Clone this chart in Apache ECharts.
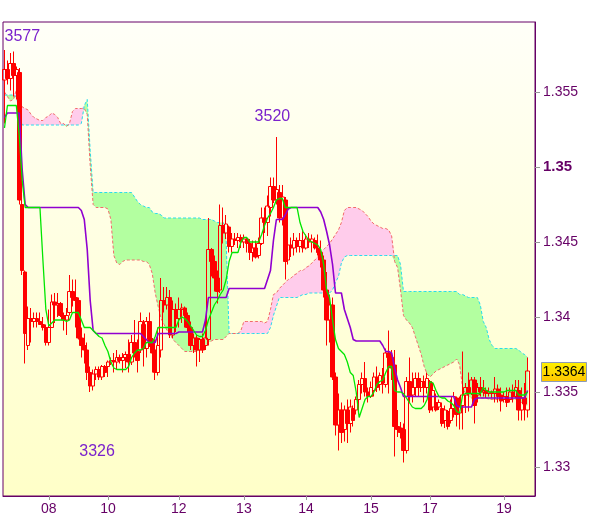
<!DOCTYPE html>
<html><head><meta charset="utf-8">
<script src="https://cdn.jsdelivr.net/npm/echarts/dist/echarts.min.js"></script>
<style>html,body{margin:0;padding:0;background:#fff}#c{width:600px;height:519px}</style>
</head><body><div id="c"></div>
<script>
// ---- data (hourly bars) ----
const opens = [1.3558,1.3565,1.3559,1.3569,1.3561,1.3563,1.3475,1.3430,1.3381,1.3399,
1.3397,1.3399,1.3397,1.3395,1.3393,1.3383,1.3393,1.3410,1.3408,1.3409,
1.3401,1.3398,1.3403,1.3417,1.3413,1.3411,1.3386,1.3381,1.3378,1.3363,
1.3354,1.3362,1.3365,1.3360,1.3367,1.3367,1.3370,1.3371,1.3370,1.3373,
1.3371,1.3373,1.3375,1.3370,1.3383,1.3377,1.3378,1.3395,1.3379,1.3397,
1.3385,1.3378,1.3363,1.3378,1.3411,1.3408,1.3413,1.3388,1.3405,1.3399,
1.3405,1.3406,1.3401,1.3393,1.3381,1.3386,1.3378,1.3385,1.3381,1.3385,
1.3445,1.3437,1.3426,1.3418,1.3461,1.3456,1.3460,1.3447,1.3452,1.3451,
1.3453,1.3450,1.3452,1.3449,1.3443,1.3446,1.3441,1.3449,1.3466,1.3463,
1.3473,1.3487,1.3478,1.3483,1.3466,1.3478,1.3438,1.3448,1.3446,1.3451,
1.3447,1.3451,1.3446,1.3452,1.3450,1.3451,1.3446,1.3443,1.3438,1.3418,
1.3398,1.3408,1.3360,1.3328,1.3338,1.3325,1.3338,1.3329,1.3339,1.3338,
1.3345,1.3355,1.3359,1.3350,1.3347,1.3351,1.3360,1.3355,1.3360,1.3355,
1.3376,1.3373,1.3368,1.3327,1.3326,1.3325,1.3311,1.3357,1.3348,1.3353,
1.3359,1.3353,1.3357,1.3353,1.3357,1.3340,1.3343,1.3340,1.3339,1.3331,
1.3337,1.3331,1.3339,1.3346,1.3336,1.3341,1.3348,1.3353,1.3349,1.3358,
1.3348,1.3353,1.3350,1.3351,1.3349,1.3350,1.3349,1.3352,1.3348,1.3345,
1.3347,1.3345,1.3350,1.3347,1.3351,1.3338,1.3346,1.3338];
const closes = [1.3565,1.3559,1.3569,1.3561,1.3565,1.3478,1.3431,1.3389,1.3399,1.3397,
1.3399,1.3397,1.3395,1.3393,1.3383,1.3393,1.3410,1.3408,1.3409,1.3401,
1.3398,1.3401,1.3417,1.3413,1.3411,1.3386,1.3381,1.3378,1.3363,1.3354,
1.3362,1.3365,1.3360,1.3367,1.3363,1.3370,1.3371,1.3370,1.3373,1.3371,
1.3373,1.3375,1.3370,1.3383,1.3376,1.3371,1.3397,1.3379,1.3397,1.3385,
1.3376,1.3363,1.3381,1.3411,1.3408,1.3413,1.3388,1.3405,1.3399,1.3405,
1.3406,1.3401,1.3393,1.3381,1.3386,1.3378,1.3385,1.3378,1.3386,1.3445,
1.3437,1.3426,1.3417,1.3461,1.3456,1.3462,1.3447,1.3452,1.3451,1.3453,
1.3450,1.3452,1.3449,1.3443,1.3446,1.3440,1.3449,1.3466,1.3463,1.3474,
1.3487,1.3478,1.3485,1.3466,1.3480,1.3437,1.3448,1.3446,1.3451,1.3447,
1.3451,1.3446,1.3452,1.3450,1.3452,1.3446,1.3443,1.3438,1.3418,1.3398,
1.3408,1.3360,1.3328,1.3338,1.3323,1.3338,1.3329,1.3340,1.3331,1.3345,
1.3355,1.3359,1.3350,1.3347,1.3353,1.3360,1.3353,1.3361,1.3356,1.3376,
1.3373,1.3366,1.3327,1.3325,1.3323,1.3311,1.3357,1.3347,1.3353,1.3359,
1.3353,1.3357,1.3353,1.3359,1.3338,1.3351,1.3338,1.3343,1.3329,1.3338,
1.3327,1.3339,1.3347,1.3335,1.3341,1.3348,1.3353,1.3349,1.3358,1.3341,
1.3353,1.3350,1.3351,1.3349,1.3350,1.3349,1.3352,1.3347,1.3344,1.3347,
1.3343,1.3350,1.3347,1.3353,1.3338,1.3346,1.3342,1.3364];
const lows = [1.3529,1.3555,1.3551,1.3547,1.3545,1.3475,1.3428,1.3369,1.3378,1.3383,
1.3393,1.3393,1.3395,1.3391,1.3381,1.3381,1.3393,1.3396,1.3400,1.3400,
1.3391,1.3388,1.3401,1.3407,1.3393,1.3385,1.3373,1.3369,1.3358,1.3350,
1.3351,1.3358,1.3358,1.3358,1.3360,1.3360,1.3368,1.3363,1.3365,1.3369,
1.3363,1.3366,1.3363,1.3368,1.3373,1.3363,1.3376,1.3367,1.3373,1.3380,
1.3363,1.3358,1.3361,1.3373,1.3403,1.3405,1.3386,1.3386,1.3390,1.3393,
1.3396,1.3393,1.3390,1.3378,1.3376,1.3367,1.3370,1.3376,1.3378,1.3381,
1.3427,1.3417,1.3409,1.3416,1.3449,1.3452,1.3443,1.3443,1.3448,1.3446,
1.3446,1.3446,1.3443,1.3438,1.3437,1.3439,1.3439,1.3448,1.3456,1.3454,
1.3467,1.3476,1.3475,1.3463,1.3461,1.3425,1.3435,1.3440,1.3441,1.3443,
1.3443,1.3443,1.3445,1.3446,1.3443,1.3445,1.3441,1.3433,1.3413,1.3381,
1.3383,1.3358,1.3321,1.3311,1.3316,1.3317,1.3316,1.3323,1.3327,1.3335,
1.3338,1.3349,1.3347,1.3343,1.3346,1.3347,1.3350,1.3351,1.3349,1.3353,
1.3349,1.3358,1.3307,1.3320,1.3319,1.3303,1.3309,1.3343,1.3343,1.3347,
1.3347,1.3350,1.3343,1.3349,1.3336,1.3337,1.3337,1.3338,1.3327,1.3326,
1.3325,1.3329,1.3333,1.3327,1.3325,1.3325,1.3336,1.3337,1.3348,1.3329,
1.3343,1.3347,1.3347,1.3346,1.3347,1.3346,1.3343,1.3343,1.3337,1.3343,
1.3340,1.3343,1.3343,1.3346,1.3331,1.3331,1.3331,1.3333];
const highs = [1.3578,1.3571,1.3576,1.3577,1.3567,1.3566,1.3478,1.3431,1.3407,1.3406,
1.3403,1.3403,1.3403,1.3400,1.3395,1.3405,1.3415,1.3416,1.3416,1.3410,
1.3403,1.3406,1.3428,1.3425,1.3425,1.3413,1.3393,1.3389,1.3383,1.3367,
1.3365,1.3367,1.3367,1.3368,1.3368,1.3371,1.3373,1.3376,1.3378,1.3375,
1.3376,1.3377,1.3385,1.3388,1.3398,1.3385,1.3403,1.3398,1.3400,1.3403,
1.3386,1.3383,1.3393,1.3426,1.3420,1.3420,1.3418,1.3411,1.3409,1.3413,
1.3409,1.3407,1.3403,1.3397,1.3389,1.3388,1.3386,1.3389,1.3399,1.3466,
1.3446,1.3441,1.3431,1.3475,1.3473,1.3468,1.3461,1.3456,1.3456,1.3456,
1.3455,1.3455,1.3453,1.3452,1.3451,1.3451,1.3453,1.3473,1.3473,1.3481,
1.3493,1.3493,1.3520,1.3488,1.3488,1.3480,1.3453,1.3453,1.3456,1.3453,
1.3456,1.3458,1.3455,1.3456,1.3455,1.3453,1.3455,1.3451,1.3441,1.3430,
1.3415,1.3413,1.3363,1.3349,1.3343,1.3341,1.3345,1.3345,1.3341,1.3347,
1.3358,1.3363,1.3370,1.3353,1.3357,1.3363,1.3367,1.3363,1.3366,1.3379,
1.3391,1.3378,1.3378,1.3338,1.3330,1.3329,1.3360,1.3373,1.3363,1.3363,
1.3363,1.3359,1.3361,1.3363,1.3358,1.3356,1.3349,1.3345,1.3343,1.3341,
1.3338,1.3345,1.3350,1.3347,1.3347,1.3377,1.3356,1.3363,1.3360,1.3360,
1.3356,1.3360,1.3358,1.3353,1.3353,1.3351,1.3360,1.3355,1.3353,1.3350,
1.3353,1.3353,1.3355,1.3358,1.3358,1.3353,1.3356,1.3373];
const tenkan = [1.3526,1.3541,1.3541,1.3541,1.3541,1.3521,1.3491,1.3473,1.3473,1.3473,
1.3473,1.3473,1.3473,1.3438,1.3405,1.3394,1.3396,1.3398,1.3398,1.3398,
1.3398,1.3397,1.3398,1.3403,1.3403,1.3403,1.3398,1.3393,1.3393,1.3393,
1.3391,1.3389,1.3387,1.3386,1.3381,1.3377,1.3370,1.3366,1.3365,1.3365,
1.3365,1.3365,1.3367,1.3373,1.3376,1.3378,1.3378,1.3379,1.3383,1.3383,
1.3383,1.3387,1.3393,1.3393,1.3393,1.3393,1.3393,1.3393,1.3393,1.3398,
1.3400,1.3399,1.3397,1.3394,1.3391,1.3388,1.3387,1.3387,1.3391,1.3398,
1.3403,1.3408,1.3411,1.3415,1.3418,1.3425,1.3437,1.3443,1.3443,1.3443,
1.3450,1.3453,1.3453,1.3450,1.3450,1.3450,1.3450,1.3455,1.3461,1.3466,
1.3469,1.3473,1.3478,1.3479,1.3479,1.3473,1.3473,1.3473,1.3473,1.3473,
1.3463,1.3457,1.3454,1.3451,1.3450,1.3449,1.3448,1.3445,1.3435,1.3418,
1.3413,1.3398,1.3385,1.3379,1.3377,1.3375,1.3370,1.3363,1.3361,1.3350,
1.3333,1.3339,1.3345,1.3347,1.3347,1.3350,1.3355,1.3357,1.3358,1.3363,
1.3367,1.3367,1.3351,1.3350,1.3350,1.3349,1.3346,1.3343,1.3340,1.3339,
1.3339,1.3339,1.3341,1.3345,1.3357,1.3356,1.3351,1.3347,1.3346,1.3346,
1.3344,1.3343,1.3341,1.3337,1.3336,1.3348,1.3349,1.3349,1.3349,1.3349,
1.3349,1.3349,1.3353,1.3351,1.3350,1.3350,1.3350,1.3350,1.3350,1.3350,
1.3351,1.3351,1.3351,1.3351,1.3348,1.3348,1.3348,1.3350];
const kijun = [1.3533,1.3536,1.3536,1.3536,1.3536,1.3536,1.3498,1.3475,1.3473,1.3473,
1.3473,1.3473,1.3473,1.3473,1.3473,1.3473,1.3473,1.3473,1.3473,1.3473,
1.3473,1.3473,1.3473,1.3473,1.3473,1.3473,1.3471,1.3465,1.3445,1.3411,
1.3391,1.3389,1.3389,1.3389,1.3389,1.3389,1.3389,1.3389,1.3389,1.3389,
1.3389,1.3389,1.3389,1.3389,1.3389,1.3389,1.3389,1.3387,1.3385,1.3383,
1.3383,1.3383,1.3389,1.3389,1.3389,1.3389,1.3389,1.3389,1.3389,1.3390,
1.3390,1.3390,1.3390,1.3390,1.3390,1.3390,1.3390,1.3390,1.3398,1.3413,
1.3413,1.3413,1.3413,1.3413,1.3413,1.3413,1.3419,1.3419,1.3419,1.3419,
1.3419,1.3419,1.3419,1.3419,1.3419,1.3419,1.3419,1.3419,1.3419,1.3425,
1.3431,1.3451,1.3465,1.3465,1.3465,1.3468,1.3472,1.3473,1.3473,1.3473,
1.3473,1.3473,1.3473,1.3473,1.3473,1.3473,1.3473,1.3470,1.3465,1.3457,
1.3448,1.3435,1.3416,1.3416,1.3416,1.3405,1.3399,1.3393,1.3385,1.3384,
1.3384,1.3384,1.3384,1.3384,1.3384,1.3384,1.3384,1.3384,1.3381,1.3377,
1.3377,1.3376,1.3366,1.3358,1.3353,1.3347,1.3347,1.3347,1.3347,1.3347,
1.3347,1.3347,1.3347,1.3347,1.3347,1.3347,1.3347,1.3347,1.3347,1.3347,
1.3347,1.3347,1.3347,1.3341,1.3340,1.3340,1.3340,1.3340,1.3340,1.3345,
1.3346,1.3346,1.3346,1.3346,1.3346,1.3346,1.3346,1.3346,1.3346,1.3346,
1.3346,1.3346,1.3346,1.3346,1.3346,1.3346,1.3346,1.3351];
const spanA = [1.3548,1.3548,1.3548,1.3548,1.3547,1.3538,1.3528,1.3528,1.3528,1.3528,
1.3528,1.3528,1.3528,1.3528,1.3528,1.3528,1.3528,1.3528,1.3528,1.3528,
1.3528,1.3528,1.3528,1.3528,1.3528,1.3528,1.3529,1.3541,1.3545,1.3511,
1.3483,1.3483,1.3483,1.3483,1.3483,1.3483,1.3483,1.3483,1.3483,1.3483,
1.3483,1.3483,1.3483,1.3483,1.3480,1.3477,1.3475,1.3474,1.3473,1.3473,
1.3470,1.3469,1.3469,1.3468,1.3466,1.3466,1.3466,1.3466,1.3466,1.3466,
1.3466,1.3466,1.3466,1.3466,1.3466,1.3466,1.3466,1.3465,1.3465,1.3465,
1.3465,1.3464,1.3463,1.3463,1.3463,1.3451,1.3389,1.3389,1.3389,1.3389,
1.3389,1.3389,1.3389,1.3389,1.3389,1.3389,1.3389,1.3389,1.3389,1.3389,
1.3393,1.3401,1.3407,1.3413,1.3413,1.3413,1.3413,1.3413,1.3413,1.3413,
1.3414,1.3415,1.3415,1.3416,1.3416,1.3416,1.3416,1.3416,1.3416,1.3416,
1.3416,1.3418,1.3423,1.3427,1.3436,1.3440,1.3441,1.3441,1.3441,1.3441,
1.3441,1.3441,1.3441,1.3441,1.3441,1.3441,1.3441,1.3441,1.3441,1.3441,
1.3441,1.3441,1.3441,1.3441,1.3435,1.3417,1.3417,1.3417,1.3417,1.3417,
1.3417,1.3417,1.3417,1.3417,1.3417,1.3417,1.3417,1.3417,1.3417,1.3417,
1.3417,1.3417,1.3417,1.3417,1.3415,1.3415,1.3414,1.3413,1.3413,1.3413,
1.3413,1.3408,1.3397,1.3393,1.3385,1.3381,1.3379,1.3379,1.3379,1.3379,
1.3379,1.3379,1.3379,1.3379,1.3378,1.3376,1.3375,1.3373];
const spanB = [1.3550,1.3547,1.3544,1.3545,1.3551,1.3545,1.3540,1.3539,1.3538,1.3535,
1.3533,1.3532,1.3531,1.3531,1.3533,1.3534,1.3536,1.3535,1.3533,1.3529,
1.3529,1.3527,1.3529,1.3537,1.3539,1.3539,1.3539,1.3539,1.3535,1.3501,
1.3475,1.3473,1.3473,1.3473,1.3473,1.3472,1.3465,1.3441,1.3436,1.3435,
1.3437,1.3438,1.3438,1.3438,1.3438,1.3438,1.3438,1.3437,1.3437,1.3435,
1.3429,1.3416,1.3407,1.3399,1.3395,1.3391,1.3389,1.3385,1.3383,1.3381,
1.3379,1.3377,1.3377,1.3377,1.3377,1.3377,1.3378,1.3379,1.3381,1.3383,
1.3384,1.3385,1.3385,1.3385,1.3385,1.3387,1.3389,1.3389,1.3389,1.3389,
1.3391,1.3397,1.3397,1.3397,1.3397,1.3397,1.3397,1.3397,1.3396,1.3397,
1.3405,1.3415,1.3416,1.3419,1.3421,1.3423,1.3425,1.3426,1.3428,1.3429,
1.3431,1.3431,1.3433,1.3434,1.3436,1.3438,1.3440,1.3443,1.3445,1.3447,
1.3449,1.3452,1.3455,1.3458,1.3463,1.3471,1.3473,1.3473,1.3473,1.3473,
1.3472,1.3471,1.3469,1.3467,1.3464,1.3462,1.3461,1.3460,1.3459,1.3459,
1.3458,1.3454,1.3437,1.3433,1.3418,1.3401,1.3398,1.3396,1.3393,1.3387,
1.3381,1.3375,1.3367,1.3362,1.3360,1.3362,1.3364,1.3365,1.3366,1.3367,
1.3368,1.3369,1.3370,1.3372,1.3368,1.3353,1.3349,1.3347,1.3346,1.3346,
1.3346,1.3346,1.3346,1.3346,1.3345,1.3345,1.3345,1.3345,1.3345,1.3345,
1.3345,1.3345,1.3345,1.3345,1.3343,1.3343,1.3342,1.3341];
// x axis: day labels and the bar index where each day starts
const dayLabels = ['08','10','12','13','14','15','17','19'];
const dayIndex  = [15, 35, 59, 81, 102, 124, 144, 169];
const slotCount = 180;
// annotations
const notes = [
  {text:'3577', idx:0,  price:1.3577},
  {text:'3520', idx:92, price:1.3520},
  {text:'3326', idx:31, price:1.3326}
];

// ---- build ----
const cats = Array.from({length: slotCount}, (_, i) => String(i));
const ohlc = opens.map((o, i) => [o, closes[i], lows[i], highs[i]]);
const cloudBase = spanA.map((a, i) => Math.min(a, spanB[i]));
const cloudGreen = spanA.map((a, i) => Math.max(a - spanB[i], 0));
const cloudPink = spanA.map((a, i) => Math.max(spanB[i] - a, 0));
const lastClose = closes[closes.length - 1];
const FONT = '"Liberation Sans", Arial, sans-serif';
const AX = '#660066';

const chart = echarts.init(document.getElementById('c'), null, {renderer: 'canvas'});
const showIdx = (i) => dayIndex.indexOf(i) >= 0;
const offsets = {'3577':[0,-15], '3520':[-4,-20], '3326':[1,24]};

chart.setOption({
  animation: false,
  backgroundColor: '#ffffff',
  grid: {
    left: 3, right: 65, top: 22, bottom: 23, show: true,
    borderColor: AX, borderWidth: 1,
    backgroundColor: new echarts.graphic.LinearGradient(0, 0, 0, 1, [
      {offset: 0, color: '#fffff8'}, {offset: 1, color: '#ffffc8'}])
  },
  xAxis: {
    type: 'category', data: cats, boundaryGap: true,
    axisLine: {show: true, lineStyle: {color: AX}},
    axisTick: {show: true, alignWithLabel: true, interval: (i) => showIdx(i), length: 4, lineStyle: {color: '#999'}},
    axisLabel: {interval: (i) => showIdx(i), formatter: (v, i) => dayLabels[dayIndex.indexOf(+v)] || '',
      color: AX, fontSize: 14, fontFamily: FONT, margin: 6},
    splitLine: {show: false}
  },
  yAxis: {
    type: 'value', position: 'right', scale: true,
    min: 1.328067, max: 1.359667, splitNumber: 6,
    axisLine: {show: true, lineStyle: {color: AX}},
    axisTick: {show: true, length: 5, lineStyle: {color: '#999'}},
    splitLine: {show: false},
    axisLabel: {
      showMinLabel: false, showMaxLabel: false,
      color: AX, fontSize: 14, fontFamily: FONT, margin: 8,
      formatter: (v) => {
        const k = Math.round(v * 1000);
        if (Math.abs(v * 1000 - k) > 1e-6 || k % 5 !== 0) return '';
        const s = String(parseFloat(v.toFixed(3)));
        return s === '1.35' ? '{b|' + s + '}' : s;
      },
      rich: {b: {fontWeight: 'bold', fontSize: 15, color: AX, fontFamily: FONT}}
    }
  },
  series: [
    {type: 'line', data: cloudBase, stack: 'cloud', symbol: 'none', silent: true,
     lineStyle: {width: 0, opacity: 0}, z: 1},
    {type: 'line', data: cloudGreen, stack: 'cloud', symbol: 'none', silent: true,
     lineStyle: {width: 0, opacity: 0}, areaStyle: {color: '#b3ffa0', opacity: 1}, z: 1},
    {type: 'line', data: cloudPink, stack: 'cloud', symbol: 'none', silent: true,
     lineStyle: {width: 0, opacity: 0}, areaStyle: {color: '#ffcceb', opacity: 1}, z: 1},
    {type: 'line', data: spanA, symbol: 'none', silent: true, z: 2,
     lineStyle: {color: '#28dcec', width: 1, type: [3, 2]}},
    {type: 'line', data: spanB, symbol: 'none', silent: true, z: 2,
     lineStyle: {color: '#f26a6a', width: 1, type: [3, 2]}},
    {type: 'candlestick', data: ohlc, barWidth: 4, z: 3,
     itemStyle: {color: 'rgba(255,255,255,0)', color0: '#ff0000', borderColor: '#ff0000', borderColor0: '#ff0000', borderWidth: 1},
     markPoint: {
       symbol: 'circle', symbolSize: 1, silent: true,
       itemStyle: {color: 'rgba(0,0,0,0)'},
       data: notes.map(n => ({coord: [String(n.idx), n.price], value: n.text,
         label: {show: true, formatter: n.text, position: 'inside', offset: offsets[n.text],
           align: n.text === '3577' ? 'left' : 'center', verticalAlign: 'middle',
           color: '#7b22cc', fontSize: 16, fontFamily: FONT}}))
     }},
    {type: 'line', data: kijun, symbol: 'none', silent: true, z: 4,
     lineStyle: {color: '#9000d0', width: 1.6}},
    {type: 'line', data: tenkan, symbol: 'none', silent: true, z: 5,
     lineStyle: {color: '#00e600', width: 1.3}}
  ]
});

// current-price tag on the right axis, placed through the y axis scale
const py = chart.convertToPixel({yAxisIndex: 0}, lastClose);
chart.setOption({
  graphic: [{
    type: 'group', left: 541, top: Math.round(py - 9), z: 100, silent: true,
    children: [
      {type: 'rect', shape: {x: 0, y: 0, width: 45, height: 19},
       style: {fill: new echarts.graphic.LinearGradient(0, 0, 0, 1, [
         {offset: 0, color: '#fff200'}, {offset: 1, color: '#ffc400'}]),
         stroke: '#8c9ab8', lineWidth: 1}},
      {type: 'text', x: 22.5, y: 10,
       style: {text: lastClose.toFixed(4), fill: '#000', font: '14px "Liberation Sans", Arial, sans-serif',
         textAlign: 'center', textVerticalAlign: 'middle'}}
    ]
  }]
});
</script>
</body></html>
